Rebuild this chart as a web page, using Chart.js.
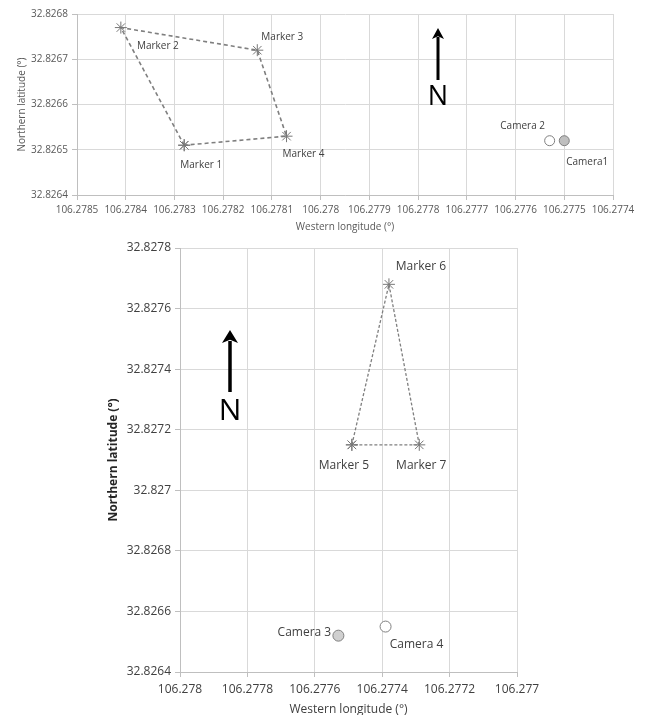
<!DOCTYPE html>
<html>
<head>
<meta charset="utf-8">
<script src="https://cdn.jsdelivr.net/npm/chart.js@4/dist/chart.umd.min.js"></script>
<style>
  html, body { margin: 0; padding: 0; background: #fff; overflow: hidden; }
  #boxA { position: absolute; left: 0; top: 0; width: 645px; height: 240px; }
  #boxB { position: absolute; left: 0; top: 235px; width: 645px; height: 490px; }
</style>
</head>
<body>
<div id="boxA"><canvas id="siteA" width="645" height="240"></canvas></div>
<div id="boxB"><canvas id="siteB" width="645" height="490"></canvas></div>
<script>
// ---------- Site A: markers 1-4 and cameras 1-2 ----------
const markerNamesA = ['Marker 1', 'Marker 2', 'Marker 3', 'Marker 4'];
const markerLonA   = [106.27828, 106.27841, 106.27813, 106.27807];
const markerLatA   = [32.82651, 32.82677, 32.82672, 32.82653];
const cameraNamesA = ['Camera1', 'Camera 2'];
const cameraLonA   = [106.27750, 106.27753];
const cameraLatA   = [32.82652, 32.82652];
const lonTicksA = [106.2785, 106.2784, 106.2783, 106.2782, 106.2781, 106.278,
                   106.2779, 106.2778, 106.2777, 106.2776, 106.2775, 106.2774];
const latTicksA = [32.8264, 32.8265, 32.8266, 32.8267, 32.8268];

// ---------- Site B: markers 5-7 and cameras 3-4 ----------
const markerNamesB = ['Marker 5', 'Marker 6', 'Marker 7'];
const markerLonB   = [106.27749, 106.27738, 106.27729];
const markerLatB   = [32.82715, 32.82768, 32.82715];
const cameraNamesB = ['Camera 3', 'Camera 4'];
const cameraLonB   = [106.27753, 106.27739];
const cameraLatB   = [32.82652, 32.82655];
const lonTicksB = [106.278, 106.2778, 106.2776, 106.2774, 106.2772, 106.277];
const latTicksB = [32.8264, 32.8266, 32.8268, 32.827, 32.8272, 32.8274, 32.8276, 32.8278];

// label placement (pixel offsets from each point to the label centre)
const markerLabelOffsetA = [[17, 20], [37, 19], [25, -13], [17, 18]];
const cameraLabelOffsetA = [[23, 21], [-27, -15]];
const markerLabelOffsetB = [[-8, 21], [32, -18], [2, 21]];
const cameraLabelOffsetB = [[-34, -3], [31, 18]];

const FONT = "'Open Sans', 'Liberation Sans', sans-serif";
Chart.defaults.font.family = FONT;

const pts = (lon, lat) => lon.map((x, i) => ({ x, y: lat[i] }));
const closed = arr => arr.concat([arr[0]]);

// writes each point's name beside it
const pointNamePlugin = {
  id: 'pointNames',
  afterDatasetsDraw(chart, args, opts) {
    const ctx = chart.ctx;
    ctx.save();
    ctx.font = opts.size + 'px ' + FONT;
    ctx.fillStyle = opts.color;
    ctx.textAlign = 'center';
    ctx.textBaseline = 'middle';
    chart.data.datasets.forEach((ds, di) => {
      if (!ds.names) return;
      const meta = chart.getDatasetMeta(di);
      ds.names.forEach((name, i) => {
        const el = meta.data[i];
        const off = ds.nameOffsets[i];
        ctx.fillText(name, el.x + off[0], el.y + off[1]);
      });
    });
    ctx.restore();
  }
};

// north arrow
const northPlugin = {
  id: 'north',
  afterDraw(chart, args, o) {
    const ctx = chart.ctx;
    ctx.save();
    ctx.strokeStyle = '#000';
    ctx.fillStyle = '#000';
    ctx.lineWidth = o.lineWidth;
    ctx.beginPath();
    ctx.moveTo(o.x, o.baseY);
    ctx.lineTo(o.x, o.tipY + o.headH - 2);
    ctx.stroke();
    ctx.beginPath();
    ctx.moveTo(o.x, o.tipY);
    ctx.lineTo(o.x - o.headW / 2, o.tipY + o.headH);
    ctx.lineTo(o.x, o.tipY + o.headH * 0.75);
    ctx.lineTo(o.x + o.headW / 2, o.tipY + o.headH);
    ctx.closePath();
    ctx.fill();
    ctx.font = o.size + 'px ' + FONT;
    ctx.textAlign = 'center';
    ctx.textBaseline = 'middle';
    ctx.fillText('N', o.x, o.textY);
    ctx.restore();
  }
};

function makeChart(id, cfg) {
  const tickVals = v => v.map(value => ({ value }));
  return new Chart(document.getElementById(id), {
    type: 'scatter',
    data: {
      datasets: [
        {
          data: closed(pts(cfg.markerLon, cfg.markerLat)),
          names: cfg.markerNames,
          nameOffsets: cfg.markerOffsets,
          showLine: true,
          borderColor: '#7f7f7f',
          borderWidth: cfg.lineWidth,
          borderDash: cfg.dash,
          pointStyle: 'star',
          pointRadius: cfg.starR,
          pointBorderColor: '#777777',
          pointBorderWidth: 1,
          pointBackgroundColor: '#777777'
        },
        {
          data: pts(cfg.cameraLon, cfg.cameraLat),
          names: cfg.cameraNames,
          nameOffsets: cfg.cameraOffsets,
          showLine: false,
          pointStyle: 'circle',
          pointRadius: cfg.camR,
          pointBorderColor: '#7f7f7f',
          pointBorderWidth: 1,
          pointBackgroundColor: cfg.cameraFill
        }
      ]
    },
    options: {
      responsive: false,
      animation: false,
      events: [],
      layout: { padding: cfg.padding },
      plugins: {
        legend: { display: false },
        tooltip: { enabled: false },
        pointNames: { size: cfg.labelSize, color: '#404040' },
        north: cfg.north
      },
      scales: {
        x: {
          type: 'linear',
          reverse: true,
          min: cfg.lonTicks[cfg.lonTicks.length - 1],
          max: cfg.lonTicks[0],
          afterBuildTicks: s => { s.ticks = tickVals(cfg.lonTicks); },
          afterFit: s => { s.height = cfg.xHeight; },
          grid: { color: '#d9d9d9', tickColor: '#bfbfbf', tickLength: 5, lineWidth: 1 },
          border: { color: '#bfbfbf' },
          ticks: {
            font: { size: cfg.tickSize }, color: cfg.tickColor,
            padding: cfg.xTickPad, maxRotation: 0, minRotation: 0, autoSkip: false,
            callback: v => String(v)
          },
          title: {
            display: true, text: 'Western longitude (°)',
            font: { size: cfg.titleSize }, color: cfg.tickColor,
            padding: { top: 0, bottom: cfg.xTitlePad }
          }
        },
        y: {
          type: 'linear',
          min: cfg.latTicks[0],
          max: cfg.latTicks[cfg.latTicks.length - 1],
          afterBuildTicks: s => { s.ticks = tickVals(cfg.latTicks); },
          afterFit: s => { s.width = cfg.yWidth; },
          grid: { color: '#d9d9d9', tickColor: '#bfbfbf', tickLength: 5, lineWidth: 1 },
          border: { color: '#bfbfbf' },
          ticks: {
            font: { size: cfg.tickSize }, color: cfg.tickColor,
            padding: 4, autoSkip: false,
            callback: v => String(v)
          },
          title: {
            display: true, text: 'Northern latitude (°)',
            font: { size: cfg.titleSize, weight: cfg.yTitleWeight }, color: cfg.yTitleColor,
            padding: { top: cfg.yTitlePad, bottom: 0 }
          }
        }
      }
    },
    plugins: [pointNamePlugin, northPlugin]
  });
}

makeChart('siteA', {
  markerNames: closed(markerNamesA).map((n, i) => i < markerNamesA.length ? n : ''),
  markerOffsets: closed(markerLabelOffsetA),
  markerLon: markerLonA, markerLat: markerLatA,
  cameraNames: cameraNamesA, cameraOffsets: cameraLabelOffsetA,
  cameraLon: cameraLonA, cameraLat: cameraLatA,
  cameraFill: ['#bfbfbf', '#ffffff'],
  lonTicks: lonTicksA, latTicks: latTicksA,
  padding: { left: 0, right: 32, top: 14, bottom: 0 },
  xHeight: 45, yWidth: 77,
  tickSize: 10, titleSize: 10, labelSize: 10,
  tickColor: '#595959', yTitleColor: '#595959', yTitleWeight: 'normal',
  xTickPad: 4, xTitlePad: 7, yTitlePad: 16,
  lineWidth: 1.6, dash: [4, 3], starR: 6, camR: 5,
  north: { x: 438, tipY: 28, baseY: 80, headW: 12, headH: 11, lineWidth: 3, size: 27, textY: 97 }
});

makeChart('siteB', {
  markerNames: closed(markerNamesB).map((n, i) => i < markerNamesB.length ? n : ''),
  markerOffsets: closed(markerLabelOffsetB),
  markerLon: markerLonB, markerLat: markerLatB,
  cameraNames: cameraNamesB, cameraOffsets: cameraLabelOffsetB,
  cameraLon: cameraLonB, cameraLat: cameraLatB,
  cameraFill: ['#d0d0d0', '#ffffff'],
  lonTicks: lonTicksB, latTicks: latTicksB,
  padding: { left: 95, right: 128, top: 13, bottom: 0 },
  xHeight: 53, yWidth: 85,
  tickSize: 12, titleSize: 12, labelSize: 12,
  tickColor: '#404040', yTitleColor: '#262626', yTitleWeight: 'bold',
  xTickPad: 5, xTitlePad: 8, yTitlePad: 11,
  lineWidth: 1.3, dash: [3, 2], starR: 6, camR: 5.5,
  north: { x: 230, tipY: 95, baseY: 157, headW: 16, headH: 13, lineWidth: 3.5, size: 30, textY: 176 }
});
</script>
</body>
</html>
